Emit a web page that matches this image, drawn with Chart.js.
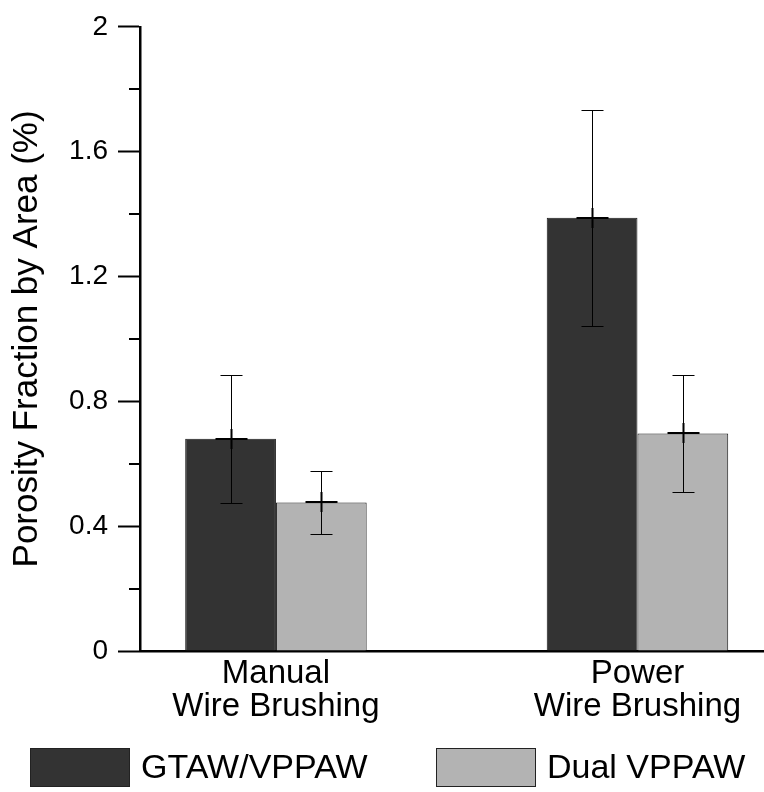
<!DOCTYPE html>
<html>
<head>
<meta charset="utf-8">
<script src="https://cdn.jsdelivr.net/npm/chart.js@4"></script>
<style>
body { margin: 0; background: #fff; }
#wrap { position: relative; width: 764px; height: 792px; }
#legend { font-family: 'Liberation Sans', Arial, sans-serif; font-size: 34px; color: #000; }
.box { position: absolute; top: 748px; width: 100px; height: 39px; box-sizing: border-box; border: 1px solid #222; }
.lbl { position: absolute; top: 747px; line-height: 39px; white-space: nowrap; }
</style>
</head>
<body>
<div id="wrap">
  <canvas id="myChart" width="764" height="792"></canvas>
  <div id="legend"></div>
</div>
<script>
// data
const groups = [['Manual', 'Wire Brushing'], ['Power', 'Wire Brushing']];
const seriesNames = ['GTAW/VPPAW', 'Dual VPPAW'];
const gtaw = [0.68, 1.388];
const gtawErr = [0.205, 0.347];
const dual = [0.476, 0.697];
const dualErr = [0.1, 0.186];
const yTickLabels = ['0', '0.4', '0.8', '1.2', '1.6', '2'];

const colors = ['#333333', '#b3b3b3'];
const errs = [gtawErr, dualErr];

Chart.defaults.font.family = "'Liberation Sans', Arial, sans-serif";
Chart.defaults.color = '#000';

const isMajor = v => Math.round(v * 10) % 4 === 0;

const errorBars = {
  id: 'errorBars',
  afterDatasetsDraw(chart) {
    const ctx = chart.ctx;
    const y = chart.scales.y;
    ctx.save();
    ctx.strokeStyle = '#000';
    chart.data.datasets.forEach((ds, i) => {
      chart.getDatasetMeta(i).data.forEach((bar, j) => {
        const v = ds.data[j].y;
        const e = errs[i][j];
        const x = Math.round(bar.x) + 0.5;
        const top = Math.round(y.getPixelForValue(v + e)) + 0.5;
        const bot = Math.round(y.getPixelForValue(v - e)) + 0.5;
        const mid = Math.round(y.getPixelForValue(v));
        ctx.lineWidth = 1;
        ctx.beginPath();
        ctx.moveTo(x, top); ctx.lineTo(x, bot);
        ctx.moveTo(x - 11, top); ctx.lineTo(x + 11, top);
        ctx.moveTo(x - 11, bot); ctx.lineTo(x + 11, bot);
        ctx.stroke();
        ctx.lineWidth = 2;
        ctx.beginPath();
        ctx.moveTo(x, mid - 10); ctx.lineTo(x, mid + 10);
        ctx.moveTo(x - 16, mid); ctx.lineTo(x + 16, mid);
        ctx.stroke();
      });
    });
    ctx.restore();
  },
  afterDraw(chart) {
    // short minor ticks between the labelled ones
    const ctx = chart.ctx;
    const y = chart.scales.y;
    ctx.save();
    ctx.strokeStyle = '#000';
    ctx.lineWidth = 2;
    y.ticks.forEach(t => {
      if (isMajor(t.value)) return;
      const py = Math.round(y.getPixelForValue(t.value));
      ctx.beginPath();
      ctx.moveTo(y.right - 11, py);
      ctx.lineTo(y.right, py);
      ctx.stroke();
    });
    ctx.restore();
  }
};

new Chart(document.getElementById('myChart'), {
  type: 'bar',
  data: {
    datasets: [
      {
        label: seriesNames[0],
        data: gtaw.map((v, i) => ({ x: i + 1, y: v })),
        backgroundColor: colors[0],
        borderColor: '#1a1a1a',
        borderWidth: 1,
        barPercentage: 1,
        categoryPercentage: 0.502
      },
      {
        label: seriesNames[1],
        data: dual.map((v, i) => ({ x: i + 1, y: v })),
        backgroundColor: colors[1],
        borderColor: '#1a1a1a',
        borderWidth: 1,
        barPercentage: 1,
        categoryPercentage: 0.502
      }
    ]
  },
  options: {
    responsive: false,
    animation: false,
    layout: { padding: { top: 18, right: 0, bottom: 41, left: 0 } },
    plugins: { legend: { display: false }, tooltip: { enabled: false } },
    scales: {
      x: {
        type: 'linear',
        min: 0.624,
        max: 2.35,
        offset: false,
        afterFit: s => { s.height = 100; },
        border: { display: true, color: '#000', width: 2.5 },
        grid: { display: true, drawOnChartArea: false, drawTicks: false },
        ticks: {
          stepSize: 1,
          includeBounds: false,
          autoSkip: false,
          maxRotation: 0,
          padding: 6,
          font: { size: 33, lineHeight: 1 },
          callback: v => groups[v - 1] || ''
        }
      },
      y: {
        min: 0,
        max: 2,
        afterFit: s => { s.width = 140; },
        border: { display: true, color: '#000', width: 2.5 },
        grid: {
          drawOnChartArea: false,
          drawTicks: true,
          tickLength: 22,
          tickWidth: 2,
          tickColor: c => (c.tick && isMajor(c.tick.value)) ? '#000' : 'rgba(0,0,0,0)'
        },
        ticks: {
          stepSize: 0.2,
          autoSkip: false,
          padding: 10,
          font: { size: 28 },
          callback: v => isMajor(v) ? yTickLabels[Math.round(v / 0.4)] : ''
        },
        title: {
          display: true,
          text: 'Porosity Fraction by Area (%)',
          font: { size: 35 },
          padding: { top: 6, bottom: 0 }
        }
      }
    }
  },
  plugins: [errorBars]
});

// legend boxes under the axis
const legend = document.getElementById('legend');
const itemLeft = [30, 436];
seriesNames.forEach((name, i) => {
  const box = document.createElement('div');
  box.className = 'box';
  box.style.left = itemLeft[i] + 'px';
  box.style.background = colors[i];
  const lbl = document.createElement('div');
  lbl.className = 'lbl';
  lbl.style.left = (itemLeft[i] + 111) + 'px';
  lbl.textContent = name;
  legend.appendChild(box);
  legend.appendChild(lbl);
});
</script>
</body>
</html>
